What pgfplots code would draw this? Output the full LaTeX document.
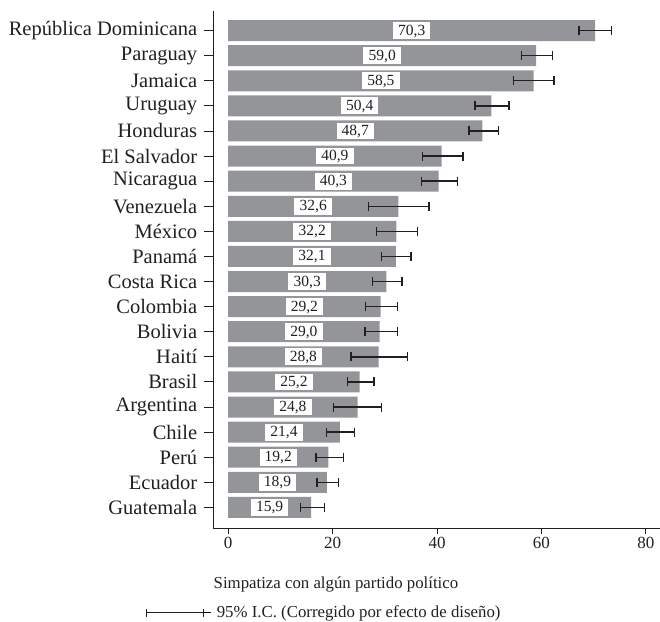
\documentclass[border=0pt]{standalone}
\usepackage{pgfplots}
\pgfplotsset{compat=1.18}
\usepackage{pgfplotstable}
\usepackage{fontspec}
\setmainfont{Liberation Serif}

\definecolor{bargray}{RGB}{147,149,153}
\definecolor{inkblack}{RGB}{35,31,32}

% y: position (0 = bottom), v: percentage, em/ep: lower/upper half-width of the 95% CI
\pgfplotstableread{
y  v     em   ep
0  15.9  2.0  2.5
1  18.9  1.9  2.2
2  19.2  2.4  2.9
3  21.4  2.6  2.8
4  24.8  4.6  4.6
5  25.2  2.4  2.7
6  28.8  5.3  5.5
7  29.0  2.8  3.4
8  29.2  2.9  3.2
9  30.3  2.6  3.0
10 32.1  2.7  2.9
11 32.2  3.8  4.1
12 32.6  5.7  5.9
13 40.3  3.3  3.6
14 40.9  3.7  4.1
15 48.7  2.6  3.1
16 50.4  3.1  3.4
17 58.5  3.8  3.9
18 59.0  2.8  3.1
19 70.3  3.1  3.1
}\simpatia

\begin{document}
\begin{tikzpicture}
\path[use as bounding box] (-213bp,-94bp) rectangle (447bp,528bp);
\begin{axis}[
  scale only axis,
  width=447bp, height=517bp,
  xmin=-2.9, xmax=82.7,
  ymin=-0.82, ymax=19.78,
  axis x line*=bottom, axis y line*=left,
  axis line style={line width=0.9bp, inkblack},
  tick align=outside,
  tick style={line width=0.9bp, inkblack},
  xtick style={/pgfplots/major tick length=6bp},
  ytick style={/pgfplots/major tick length=8.5bp},
  xtick={0,20,40,60,80},
  ytick={0,...,19},
  yticklabels={Guatemala,Ecuador,Perú,Chile,Argentina,Brasil,Haití,Bolivia,Colombia,Costa Rica,Panamá,México,Venezuela,Nicaragua,El Salvador,Honduras,Uruguay,Jamaica,Paraguay,República Dominicana},
  yticklabel style={font=\fontsize{20.5bp}{24bp}\selectfont, text=inkblack, xshift=-8bp},
  xticklabel style={font=\fontsize{17bp}{20bp}\selectfont, text=inkblack, yshift=-1bp},
  /pgf/number format/assume math mode=true,
  xlabel={Simpatiza con algún partido político},
  xlabel style={at={(axis description cs:0.275,-0.110)}, anchor=center,
    font=\fontsize{16.8bp}{20bp}\selectfont, text=inkblack},
  legend style={at={(axis description cs:-0.15,-0.1635)}, anchor=west,
    draw=none, fill=none, inner sep=0pt,
    font=\fontsize{16.8bp}{20bp}\selectfont, text=inkblack},
  legend cell align=left,
]
% bars with asymmetric confidence intervals
\addplot[xbar, bar width=21bp, fill=bargray, draw=none, forget plot,
  error bars/.cd, x dir=both, x explicit, error mark=|,
  error bar style={line width=1.4bp, inkblack},
  error mark options={inkblack, line width=1.4bp, mark size=4.5bp}]
  table[x=v, y=y, x error plus=ep, x error minus=em] {\simpatia};

% value labels centred on each bar
\addplot[draw=none, forget plot, point meta=explicit,
  nodes near coords={\pgfmathprintnumber[fixed,fixed zerofill,precision=1,use comma]{\pgfplotspointmeta}},
  nodes near coords align={center},
  nodes near coords style={anchor=center, fill=white, text=inkblack,
    inner xsep=5.2bp, inner ysep=2.4bp, text height=10.5bp, text depth=1.5bp,
    font=\fontsize{15.5bp}{18bp}\selectfont}]
  table[x expr=\thisrow{v}/2, y=y, meta=v] {\simpatia};

\addlegendimage{legend image code/.code={
  \draw[inkblack, line width=1bp] (0bp,0bp) -- (57bp,0bp)
    (0bp,-4bp) -- (0bp,4bp) (57bp,-4bp) -- (57bp,4bp);
  \path (57bp,0bp) -- (64bp,0bp);}}
\addlegendentry{\hspace*{4bp}95\% I.C. (Corregido por efecto de diseño)}
\end{axis}
\end{tikzpicture}
\end{document}
